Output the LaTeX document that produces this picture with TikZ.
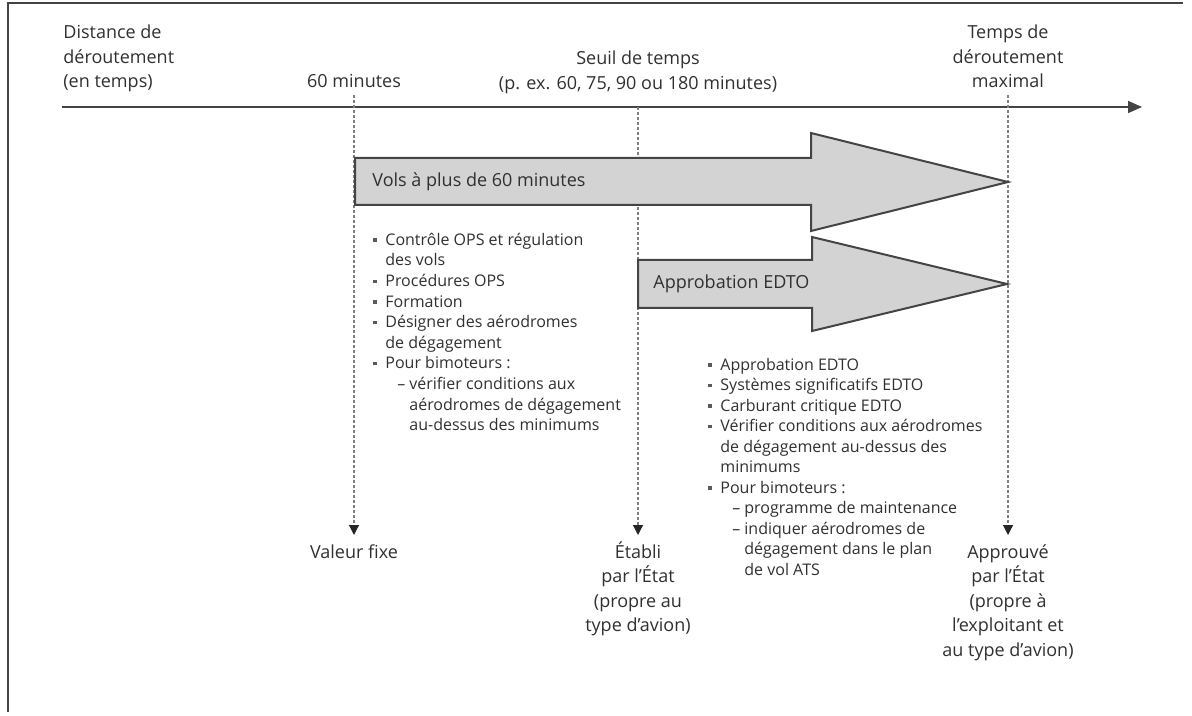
\documentclass[tikz,border=0pt]{standalone}
\usepackage{fontspec}
\usepackage{graphicx}
\setmainfont{Open Sans}
\usetikzlibrary{arrows.meta}
\definecolor{txt}{HTML}{303030}
\definecolor{arrowfill}{HTML}{D3D3D3}
\definecolor{edge}{HTML}{444444}
\newcommand{\lbul}{\makebox[6pt][l]{\textcolor{txt!80}{\rule[0.22em]{1.7pt}{1.7pt}}}}
\newcommand{\ldash}{\makebox[6pt][l]{–}}
\newcommand{\ap}{\symbol{39}}
\begin{document}
\begin{tikzpicture}[x=0.5pt,y=-0.5pt,
  lbl/.style={inner sep=0pt, text=txt, font=\fontsize{9}{12.25}\selectfont},
  arrlbl/.style={inner sep=0pt, text=txt, font=\fontsize{9}{11}\selectfont, anchor=west},
  lst/.style={inner sep=0pt, text=txt, align=left, anchor=north west},
  vguide/.style={draw=gray, line width=0.6pt, dash pattern=on 1.5pt off 1pt,
    -{Triangle[width=5pt,length=5pt,color=black!85]}},
  bigarrow/.style={fill=arrowfill, draw=edge, line width=1pt, line join=miter},
  axisline/.style={draw=edge, line width=0.8pt, -{Triangle[width=6pt,length=7pt]}},
  framebox/.style={draw=edge, line width=1pt}]
\useasboundingbox (0,0) rectangle (1192,716);
\draw[framebox] (1183,3) -- (8,3) -- (8,712);

% top labels
\node[lbl, anchor=north west, align=left] (dist) at (63,21.6) {\vphantom{É}Distance de\\déroutement\\(en temps)};
\node[lbl, anchor=north] (m60) at (354,70.6) {\vphantom{É}60 minutes};
\node[lbl, anchor=north, align=center] (seuil) at (638,47.6) {\vphantom{É}Seuil de temps\\(p. ex. 60, 75, 90 ou 180 minutes)};
\node[lbl, anchor=north, align=center] (tmax) at (1008,21.6) {\vphantom{É}Temps de\\déroutement\\maximal};

% axis
\coordinate (ax0) at (62,107);
\coordinate (ax1) at (1142,107);
\draw[axisline] (ax0) -- (ax1);

% bottom labels
\node[lbl, anchor=north] (valeur) at (354,541) {\vphantom{É}Valeur fixe};
\node[lbl, anchor=north, align=center] (etabli) at (638,541) {\vphantom{É}Établi\\par l\ap État\\(propre au\\type d\ap avion)};
\node[lbl, anchor=north, align=center] (approuve) at (1008,541) {\vphantom{É}Approuvé\\par l\ap État\\(propre à\\l\ap exploitant et\\au type d\ap avion)};

% vertical guides
\coordinate (g1) at (354,95);
\coordinate (g2) at (638,107);
\coordinate (g3) at (1008,95);
\draw[vguide] (g1) -- ([yshift=3pt]valeur.north);
\draw[vguide] (g2) -- ([yshift=3pt]etabli.north);
\draw[vguide] (g3) -- ([yshift=3pt]approuve.north);

% big arrows
\draw[bigarrow] (355,158) -- (811,158) -- (811,133) -- (1008,182) -- (811,231) -- (811,205) -- (355,205) -- cycle;
\node[arrlbl] (vols) at (372,182) {Vols à plus de 60 minutes};
\draw[bigarrow] (638,260) -- (812,260) -- (812,237) -- (1007,284) -- (812,331) -- (812,308) -- (638,308) -- cycle;
\node[arrlbl] (edto) at (653,284) {Approbation EDTO};

% lists
\node[lst, font=\fontsize{8}{10.3}\selectfont] (opsreq) at (373,230) {\lbul\vphantom{É}Contrôle OPS et régulation\\
\hspace*{6pt}des vols\\
\lbul Procédures OPS\\
\lbul Formation\\
\lbul Désigner des aérodromes\\
\hspace*{6pt}de dégagement\\
\lbul Pour bimoteurs~:\\
\hspace*{12pt}\ldash vérifier conditions aux\\
\hspace*{18pt}aérodromes de dégagement\\
\hspace*{18pt}au-dessus des minimums};

\node[lst, font=\fontsize{8}{10.25}\selectfont] (edtoreq) at (708,355) {\lbul\vphantom{É}Approbation EDTO\\
\lbul Systèmes significatifs EDTO\\
\lbul Carburant critique EDTO\\
\lbul Vérifier conditions aux aérodromes\\
\hspace*{6pt}de dégagement au-dessus des\\
\hspace*{6pt}minimums\\
\lbul Pour bimoteurs~:\\
\hspace*{12pt}\ldash programme de maintenance\\
\hspace*{12pt}\ldash indiquer aérodromes de\\
\hspace*{18pt}dégagement dans le plan\\
\hspace*{18pt}de vol ATS};
\end{tikzpicture}
\end{document}
